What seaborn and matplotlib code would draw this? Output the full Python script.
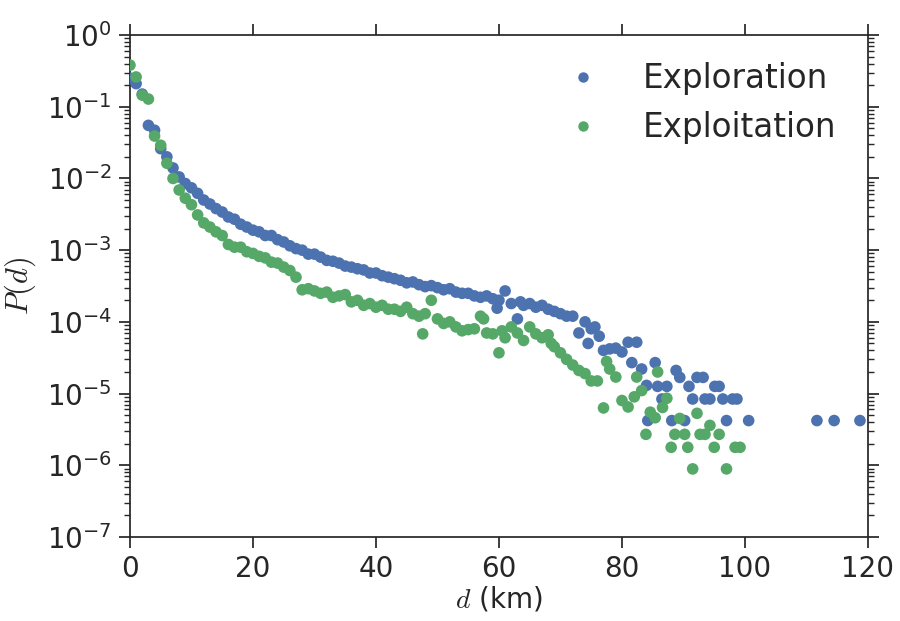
import matplotlib
matplotlib.use("Agg")
import matplotlib.pyplot as plt
import seaborn as sns
import numpy as np
import pandas as pd
from matplotlib.lines import Line2D

# ---------------- data ----------------
series_names = ["Exploration", "Exploitation"]
colors = ["#4C72B0", "#55A868"]

explore_d = [0, 1, 2, 3, 4, 5, 6, 7, 8, 9, 10, 11, 12, 13, 14, 15, 16, 17, 18, 19,
             20, 21, 22, 23, 24, 25, 26, 27, 28, 29, 30, 31, 32, 33, 34, 35, 36, 37, 38, 39,
             40, 41, 42, 43, 44, 45, 46, 47, 48, 49, 50, 51, 52, 53, 54, 55, 56, 57, 58, 59,
             59.7, 60, 61, 62, 63, 63.5, 64, 65, 66, 67, 68, 69, 70, 71, 72, 73, 74, 74.5, 75,
             75.6, 76.3, 77, 78, 79, 80, 81, 81.6, 82.4, 83.2, 84, 84.2, 85.4, 85.8, 86.5,
             87.3, 88.1, 88.8, 89.4, 90.2, 90.9, 91.5, 92.2, 93.2, 93.5, 94.3, 95.1, 95.8,
             96.4, 97, 98, 98.7, 100.6, 111.7, 114.5, 118.7]
explore_p = [0.25, 0.21, 0.15, 0.055, 0.047, 0.026, 0.020, 0.014, 0.0105, 0.0085,
             0.0074, 0.0062, 0.0050, 0.0044, 0.0038, 0.0034, 0.0029, 0.0027, 0.0023, 0.0021,
             0.0019, 0.0018, 0.0016, 0.0016, 0.0014, 0.0013, 0.00115, 0.00105, 0.00100, 0.00088,
             0.00088, 0.00080, 0.00072, 0.00070, 0.00066, 0.00060, 0.00058, 0.00055, 0.00053, 0.00048,
             0.00048, 0.00044, 0.00042, 0.00040, 0.00038, 0.00035, 0.00036, 0.00033, 0.00031, 0.00032,
             0.00030, 0.00028, 0.00029, 0.00026, 0.00025, 0.00025, 0.00023, 0.00022, 0.00023, 0.00021,
             0.000155, 0.00020, 0.00027, 0.00018, 0.00011, 0.00019, 0.00017, 0.00018, 0.00016, 0.00017,
             0.00015, 0.00014, 0.00013, 0.00012, 0.00012, 0.00007, 0.00010, 0.00005, 0.00008,
             0.000085, 0.000063, 0.000040, 0.000042, 0.000043, 0.000038, 0.000052, 0.000027, 0.000052,
             0.000022, 0.000013, 0.0000042, 0.000027, 0.0000126, 0.0000084,
             0.0000126, 0.0000042, 0.000021, 0.0000168, 0.0000042, 0.0000126, 0.0000084, 0.0000168,
             0.0000168, 0.0000084, 0.0000084, 0.0000126, 0.0000126,
             0.0000084, 0.0000042, 0.0000084, 0.0000084, 0.0000042, 0.0000042, 0.0000042, 0.0000042]

exploit_d = [0, 1, 2, 3, 4, 5, 6, 7, 8, 9, 10, 11, 12, 13, 14, 15, 16, 17, 18, 19,
             20, 21, 22, 23, 24, 25, 26, 27, 28, 29, 30, 31, 32, 33, 34, 35, 36, 37, 38, 39,
             40, 41, 42, 43, 44, 45, 46, 47, 47.6, 48, 49, 50, 51, 52, 53, 54, 55, 56, 57, 57.5,
             58, 59, 60, 60.5, 61, 62, 63, 64, 65, 66, 67, 68, 68.5, 69, 70, 71, 72, 73, 74, 75,
             76, 77, 77.5, 78, 79, 80, 81, 82, 82.4, 83.2, 83.9, 84.6, 85.4, 85.8, 86.6, 87.3,
             88, 88.6, 89.4, 90.2, 90.7, 91.5, 92.2, 92.7, 93.5, 94.3, 95, 95.8, 97, 98.4, 99.2]
exploit_p = [0.38, 0.26, 0.145, 0.128, 0.039, 0.029, 0.0163, 0.010, 0.0069, 0.0053,
             0.0043, 0.0031, 0.0024, 0.0021, 0.0018, 0.0016, 0.0012, 0.0011, 0.0011, 0.00095,
             0.00090, 0.00082, 0.00078, 0.00068, 0.00066, 0.00058, 0.00052, 0.00042, 0.00028, 0.00029,
             0.00027, 0.00025, 0.00026, 0.00022, 0.00023, 0.00024, 0.00019, 0.00020, 0.00017, 0.00018,
             0.00016, 0.00017, 0.00015, 0.00015, 0.00014, 0.00016, 0.00013, 0.00012, 0.000068, 0.00013,
             0.00020, 0.00011, 0.000095, 0.00010, 0.000085, 0.000075, 0.000078, 0.00008, 0.00012, 0.00011,
             0.00007, 0.000068, 0.000037, 0.000075, 0.00006, 0.000085, 0.00007, 0.000055, 0.000085, 0.000068,
             0.00006, 0.000066, 0.00005, 0.000045, 0.000037, 0.00003, 0.000025, 0.000021, 0.000019, 0.000015,
             0.000015, 0.0000063, 0.000028, 0.000022, 0.000017, 0.000008, 0.0000065, 0.000009, 0.000017, 0.000011,
             0.0000027, 0.0000055, 0.0000046, 0.00002, 0.0000064, 0.0000086,
             0.00000178, 0.0000027, 0.0000045, 0.0000027, 0.00000178, 0.00000089, 0.0000053, 0.0000027,
             0.0000027, 0.0000036, 0.00000178, 0.0000027, 0.00000089, 0.00000178, 0.00000178]

x_ticks = [0, 20, 40, 60, 80, 100, 120]

df = pd.DataFrame({
    "d": explore_d + exploit_d,
    "P": explore_p + exploit_p,
    "kind": [series_names[0]] * len(explore_d) + [series_names[1]] * len(exploit_d),
})

# ---------------- style ----------------
sns.set_style("ticks")
plt.rcParams["font.family"] = ["DejaVu Sans"]
plt.rcParams["mathtext.fontset"] = "dejavusans"

fig = plt.figure(figsize=(9, 6.21), dpi=100)
ax = fig.add_axes([0.1444, 0.1353, 0.82, 0.8083])

sns.scatterplot(data=df, x="d", y="P", hue="kind", palette=colors,
                hue_order=series_names, s=70, linewidth=0, alpha=1.0,
                ax=ax, legend=False, zorder=3)

ax.set_yscale("log")
ax.set_ylim(1e-7, 1)
ax.set_xlim(0, 120)
ax.set_xticks(x_ticks)

for sp in ax.spines.values():
    sp.set_visible(True)
    sp.set_color("#262626")
    sp.set_linewidth(1.25)

ax.tick_params(axis="both", which="major", direction="out", length=8, width=1.25,
               labelsize=20, colors="#262626", top=True, right=True, pad=5)
ax.tick_params(axis="both", which="minor", direction="out", length=4, width=1.0,
               colors="#262626", top=True, right=True)
ax.tick_params(axis="x", which="minor", bottom=False, top=False)

ax.set_xlabel(r"$d$ (km)", fontsize=20, color="#262626", labelpad=1,
              math_fontfamily="cm")
ax.set_ylabel(r"$P(d)$", fontsize=22, color="#262626", labelpad=6,
              math_fontfamily="cm")

handles = [Line2D([0], [0], marker="o", linestyle="", markersize=7.5,
                  markerfacecolor=c, markeredgewidth=0) for c in colors]
ax.legend(handles, series_names, loc="upper right", frameon=False, fontsize=23.5,
          handletextpad=0.85, labelspacing=0.5, borderaxespad=0,
          bbox_to_anchor=(0.975, 0.972))

fig.savefig("out.png", dpi=100)
